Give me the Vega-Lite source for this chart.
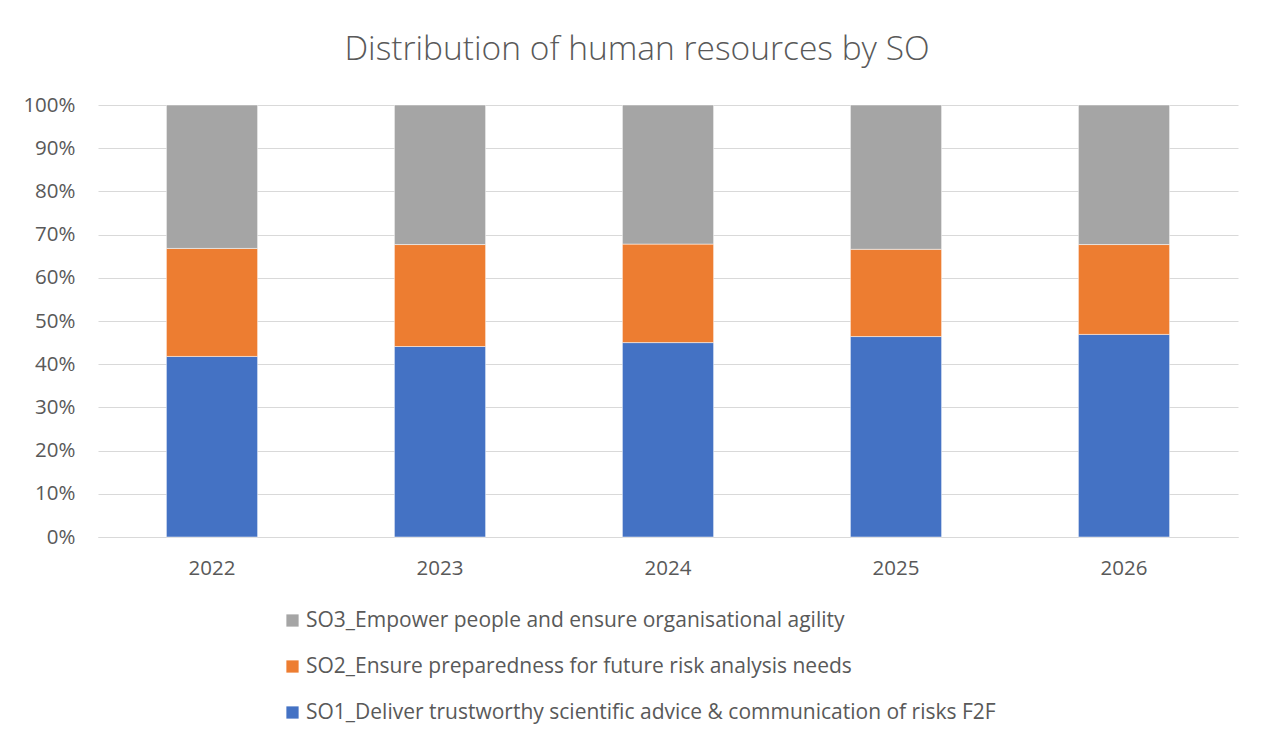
{
  "$schema": "https://vega.github.io/schema/vega-lite/v6.json",
  "width": 1140,
  "height": 432,
  "autosize": {"type": "none"},
  "padding": {"left": 98, "top": 105, "right": 26, "bottom": 205},
  "background": "white",
  "title": {
    "text": "Distribution of human resources by SO",
    "font": "Open Sans",
    "fontWeight": 300,
    "fontSize": 33.5,
    "color": "#595959",
    "anchor": "middle",
    "dx": -31,
    "offset": 28
  },
  "data": {
    "values": [
      {"year": "2022", "series": "SO1_Deliver trustworthy scientific advice & communication of risks F2F", "value": 41.8},
      {"year": "2022", "series": "SO2_Ensure preparedness for future risk analysis needs", "value": 25.0},
      {"year": "2022", "series": "SO3_Empower people and ensure organisational agility", "value": 33.2},
      {"year": "2023", "series": "SO1_Deliver trustworthy scientific advice & communication of risks F2F", "value": 44.1},
      {"year": "2023", "series": "SO2_Ensure preparedness for future risk analysis needs", "value": 23.6},
      {"year": "2023", "series": "SO3_Empower people and ensure organisational agility", "value": 32.3},
      {"year": "2024", "series": "SO1_Deliver trustworthy scientific advice & communication of risks F2F", "value": 45.0},
      {"year": "2024", "series": "SO2_Ensure preparedness for future risk analysis needs", "value": 22.8},
      {"year": "2024", "series": "SO3_Empower people and ensure organisational agility", "value": 32.2},
      {"year": "2025", "series": "SO1_Deliver trustworthy scientific advice & communication of risks F2F", "value": 46.4},
      {"year": "2025", "series": "SO2_Ensure preparedness for future risk analysis needs", "value": 20.2},
      {"year": "2025", "series": "SO3_Empower people and ensure organisational agility", "value": 33.4},
      {"year": "2026", "series": "SO1_Deliver trustworthy scientific advice & communication of risks F2F", "value": 46.9},
      {"year": "2026", "series": "SO2_Ensure preparedness for future risk analysis needs", "value": 20.8},
      {"year": "2026", "series": "SO3_Empower people and ensure organisational agility", "value": 32.3}
    ]
  },
  "mark": {"type": "bar", "stroke": "white", "strokeWidth": 0.5},
  "encoding": {
    "x": {
      "field": "year",
      "type": "ordinal",
      "scale": {"paddingInner": 0.6, "paddingOuter": 0.3},
      "axis": {
        "title": null,
        "labelAngle": 0,
        "ticks": false,
        "domain": true,
        "domainColor": "#D9D9D9",
        "labelFont": "Open Sans",
        "labelFontSize": 20.5,
        "labelColor": "#595959",
        "labelPadding": 21
      }
    },
    "y": {
      "field": "value",
      "type": "quantitative",
      "stack": "normalize",
      "scale": {"domain": [0, 1]},
      "axis": {
        "title": null,
        "format": ".0%",
        "values": [0, 0.1, 0.2, 0.3, 0.4, 0.5, 0.6, 0.7, 0.8, 0.9, 1],
        "ticks": false,
        "domain": false,
        "grid": true,
        "gridColor": "#D9D9D9",
        "gridWidth": 1,
        "labelFont": "Open Sans",
        "labelFontSize": 20.5,
        "labelColor": "#595959",
        "labelPadding": 23
      }
    },
    "color": {
      "field": "series",
      "type": "nominal",
      "scale": {
        "domain": [
          "SO3_Empower people and ensure organisational agility",
          "SO2_Ensure preparedness for future risk analysis needs",
          "SO1_Deliver trustworthy scientific advice & communication of risks F2F"
        ],
        "range": ["#A5A5A5", "#ED7D31", "#4472C4"]
      },
      "legend": {
        "title": null,
        "orient": "none",
        "legendX": 184,
        "legendY": 505,
        "direction": "vertical",
        "symbolType": "square",
        "symbolSize": 150,
        "symbolStrokeWidth": 0,
        "labelFont": "Open Sans",
        "labelFontSize": 21,
        "labelColor": "#595959",
        "labelLimit": 1000,
        "rowPadding": 24,
        "labelOffset": 3
      }
    },
    "order": {"field": "series", "sort": "ascending"}
  },
  "config": {
    "view": {"stroke": null}
  }
}
